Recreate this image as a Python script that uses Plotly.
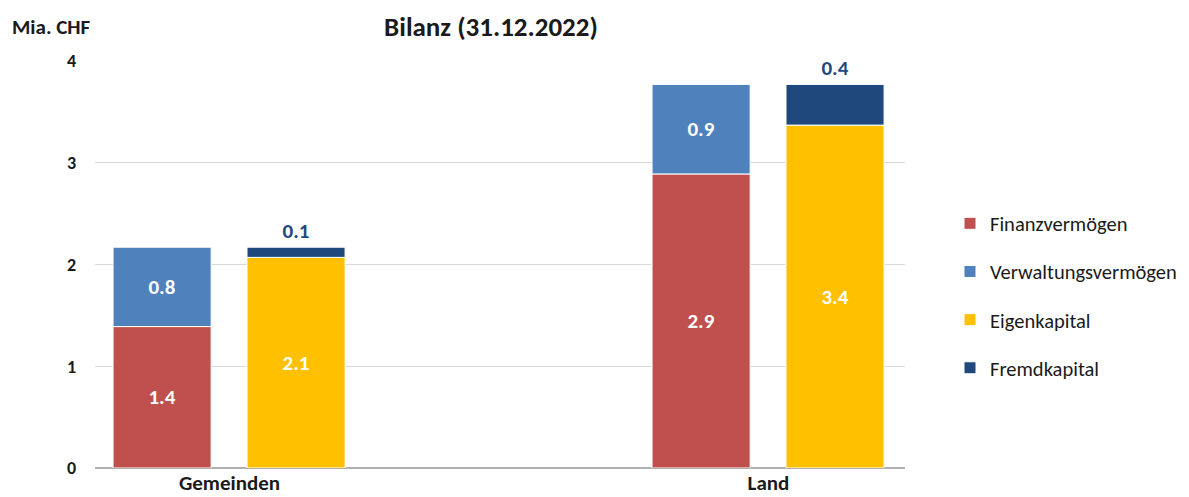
import plotly.graph_objects as go

categories = ["Gemeinden", "Land"]
finanzvermoegen = [1.39, 2.89]
verwaltungsvermoegen = [0.78, 0.88]
eigenkapital = [2.07, 3.37]
fremdkapital = [0.10, 0.40]
yticks = [0, 1, 2, 3, 4]

FONT = "Carlito, Lato, sans-serif"
W = 0.182
OFF_A = -0.216
OFF_L = 0.0325

# page body has an 8px margin: work in figure coordinates = viewport - 8
PAD = 8
FIG_W, FIG_H = 1189 - PAD, 497 - PAD
L, T = 95 - PAD, 61 - PAD
PW, PH = 810, 407

def fmt(vals):
    return [f"{v:.1f}" for v in vals]

fig = go.Figure()
lab_in = dict(family=FONT, size=21, color="white", weight="bold")
lab_out = dict(family=FONT, size=21, color="#1F497D", weight="bold")

fig.add_trace(go.Bar(name="Finanzvermögen", x=categories, y=finanzvermoegen,
                     base=[0, 0], width=W, offset=OFF_A,
                     marker=dict(color="#C0504D", line=dict(color="white", width=1)),
                     text=fmt(finanzvermoegen), textposition="inside",
                     insidetextanchor="middle", textfont=lab_in, legendgroup="a"))
fig.add_trace(go.Bar(name="Verwaltungsvermögen", x=categories, y=verwaltungsvermoegen,
                     base=finanzvermoegen, width=W, offset=OFF_A,
                     marker=dict(color="#4F81BD", line=dict(color="white", width=1)),
                     text=fmt(verwaltungsvermoegen), textposition="inside",
                     insidetextanchor="middle", textfont=lab_in, legendgroup="b"))
fig.add_trace(go.Bar(name="Eigenkapital", x=categories, y=eigenkapital,
                     base=[0, 0], width=W, offset=OFF_L,
                     marker=dict(color="#FFC000", line=dict(color="white", width=1)),
                     text=fmt(eigenkapital), textposition="inside",
                     insidetextanchor="middle", textfont=lab_in, legendgroup="c"))
fig.add_trace(go.Bar(name="Fremdkapital", x=categories, y=fremdkapital,
                     base=eigenkapital, width=W, offset=OFF_L,
                     marker=dict(color="#1F497D", line=dict(color="white", width=1)),
                     text=fmt(fremdkapital), textposition="outside",
                     textfont=lab_out, cliponaxis=False, legendgroup="d"))

fig.update_traces(textangle=0, constraintext="none")

fig.update_layout(
    width=FIG_W, height=FIG_H,
    barmode="overlay",
    plot_bgcolor="white", paper_bgcolor="white",
    margin=dict(l=L, r=FIG_W - L - PW, t=T, b=FIG_H - T - PH, autoexpand=False),
    font=dict(family=FONT, color="#1a1a1a"),
    title=dict(text="Bilanz (31.12.2022)", x=(491 - PAD) / FIG_W, xanchor="center",
               y=1 - (27 - PAD) / FIG_H, yanchor="middle",
               font=dict(size=27, family=FONT, weight="bold")),
    showlegend=True,
    legend=dict(x=(950 - 95) / PW, xanchor="left", y=(468 - 296) / PH, yanchor="middle",
                font=dict(size=20.5, family=FONT), tracegroupgap=18.5,
                itemclick=False),
    annotations=[dict(text="Mia. CHF", xref="paper", yref="paper",
                      x=(51 - 95) / PW, y=(468 - 27) / PH, xanchor="center",
                      yanchor="middle", showarrow=False,
                      font=dict(size=21, family=FONT, color="#1a1a1a", weight="bold"))],
)
fig.update_xaxes(type="category", range=[-0.2495, 1.2533], showgrid=False,
                 showline=False, ticks="", zeroline=False, automargin=False,
                 tickfont=dict(size=21, family=FONT, color="#1a1a1a", weight="bold"),
                 ticklabelstandoff=0)
fig.update_yaxes(range=[0, 4], tickvals=yticks, showgrid=True, gridcolor="#d9d9d9",
                 gridwidth=1, zeroline=True, zerolinecolor="#b0b0b0", zerolinewidth=2,
                 showline=False, ticks="", automargin=False,
                 tickfont=dict(size=18, family=FONT, color="#1a1a1a", weight="bold"),
                 ticklabelstandoff=18)

fig.write_html("out.html")
